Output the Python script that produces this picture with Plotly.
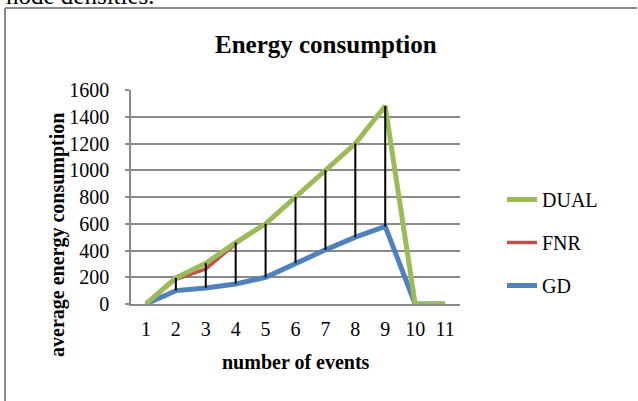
import plotly.graph_objects as go

events = ["1", "2", "3", "4", "5", "6", "7", "8", "9", "10", "11"]
dual = [0, 195, 305, 460, 600, 800, 1000, 1200, 1480, 0, 0]
fnr = [0, 185, 262, 450, 600, 800, 1000, 1200, 1480, 0, 0]
gd = [0, 100, 120, 150, 200, 305, 405, 500, 580, 0, 0]
y_ticks = [0, 200, 400, 600, 800, 1000, 1200, 1400, 1600]

W, H = 638, 401
L, R, T, B = 131, 460, 90, 304  # plot area in pixels


def px(x):
    return (x - L) / (R - L)


def py(y):
    return (B - y) / (B - T)


FONT = "Liberation Serif, Times New Roman, serif"
GRID = "#8a8a8a"

fig = go.Figure()

fig.add_trace(go.Scatter(x=events, y=gd, name="GD", mode="lines", legendrank=3,
                         line=dict(color="#4F81BD", width=5), legendgroup="gd"))
fig.add_trace(go.Scatter(x=events, y=fnr, name="FNR", mode="lines", legendrank=2,
                         line=dict(color="#C0504D", width=3.5), legendgroup="fnr"))
fig.add_trace(go.Scatter(x=events, y=dual, name="DUAL", mode="lines", legendrank=1,
                         line=dict(color="#9BBB59", width=5), legendgroup="dual"))

# high-low lines
hx, hy = [], []
for i, c in enumerate(events):
    lo = min(dual[i], fnr[i], gd[i])
    hi = max(dual[i], fnr[i], gd[i])
    hx += [c, c, None]
    hy += [lo, hi, None]
fig.add_trace(go.Scatter(x=hx, y=hy, mode="lines", showlegend=False,
                         line=dict(color="black", width=2), hoverinfo="skip"))

fig.update_layout(
    width=W, height=H,
    margin=dict(l=L, r=W - R, t=T, b=H - B, pad=0),
    paper_bgcolor="white", plot_bgcolor="white",
    font=dict(family=FONT, size=20, color="black"),
    showlegend=True,
    legend=dict(x=px(502), y=py(180), xanchor="left", yanchor="top",
                traceorder="grouped", tracegroupgap=14,
                font=dict(size=20), bgcolor="rgba(0,0,0,0)"),
    xaxis=dict(type="category", categoryorder="array", categoryarray=events,
               range=[-0.5, len(events) - 0.5],
               showgrid=False, showline=True, linecolor=GRID, linewidth=1.5,
               ticks="", ticklabelstandoff=6, tickfont=dict(size=20),
               zeroline=False),
    yaxis=dict(range=[0, 1600], tickvals=y_ticks, showgrid=True,
               gridcolor=GRID, gridwidth=1.5, showline=True, linecolor=GRID,
               linewidth=1.5, ticks="outside", ticklen=4, tickcolor=GRID,
               tickwidth=1.5, ticklabelstandoff=12, tickfont=dict(size=20),
               zeroline=False),
)

fig.add_annotation(text="<b>Energy consumption</b>", xref="paper", yref="paper",
                   x=px(326), y=py(44), xanchor="center", yanchor="middle",
                   showarrow=False, font=dict(size=25, family=FONT))
fig.add_annotation(text="<b>number of events</b>", xref="paper", yref="paper",
                   x=px(296), y=py(362), xanchor="center", yanchor="middle",
                   showarrow=False, font=dict(size=20, family=FONT))
fig.add_annotation(text="<b>average energy consumption</b>", xref="paper", yref="paper",
                   x=px(57), y=py(235), xanchor="center", yanchor="middle",
                   textangle=-90, showarrow=False, font=dict(size=20, family=FONT))
fig.add_annotation(text="node densities.", xref="paper", yref="paper",
                   x=px(4), y=py(-5), xanchor="left", yanchor="middle",
                   showarrow=False, font=dict(size=25, family=FONT))

# frame
fig.add_shape(type="line", xref="paper", yref="paper", x0=px(5), x1=px(5),
              y0=py(8), y1=py(402), line=dict(color="#8c8c8c", width=2))
fig.add_shape(type="line", xref="paper", yref="paper", x0=px(5), x1=px(637),
              y0=py(8), y1=py(8), line=dict(color="#8c8c8c", width=2))

fig.write_html("out.html", config={"displayModeBar": False},
               post_script="document.body.style.margin='0';document.body.style.overflow='hidden';")
